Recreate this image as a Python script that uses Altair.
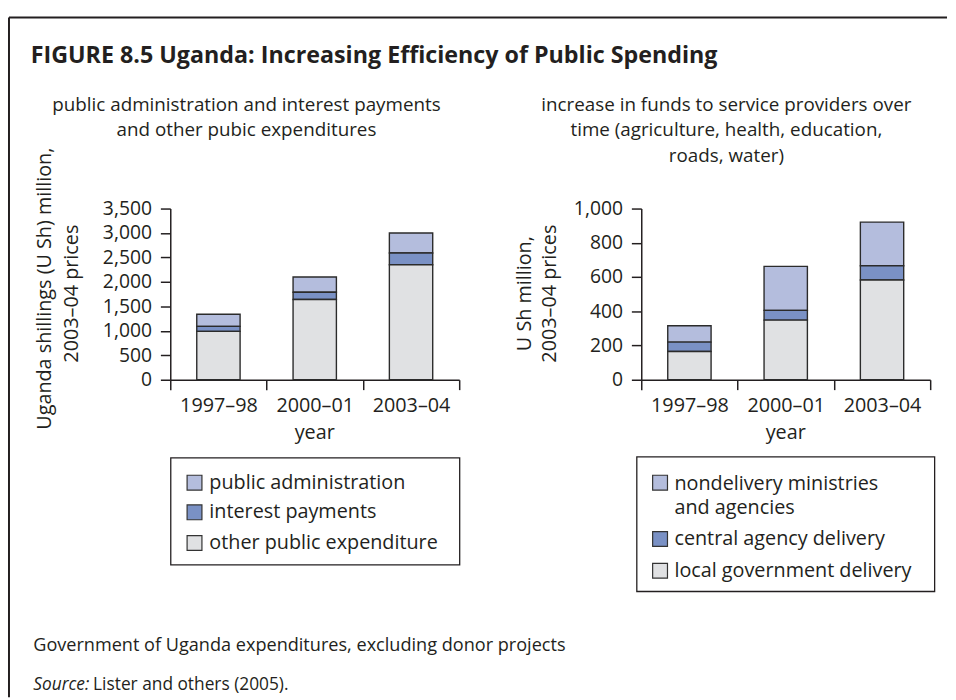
import altair as alt
import pandas as pd

# ---------------- data ----------------
years = ["1997–98", "2000–01", "2003–04"]

left_series = ["public administration", "interest payments", "other public expenditure"]
left_admin = [250, 310, 410]
left_interest = [100, 150, 240]
left_other = [990, 1640, 2350]
left_ticks = [0, 500, 1000, 1500, 2000, 2500, 3000, 3500]

right_series = ["nondelivery ministries and agencies", "central agency delivery", "local government delivery"]
right_nondelivery = [95, 257, 255]
right_central = [55, 57, 83]
right_local = [165, 348, 583]
right_ticks = [0, 200, 400, 600, 800, 1000]

colors = ["#b4bddd", "#7a91c5", "#e0e1e3"]

FONT = "Open Sans"
INK = "#231f20"
W, H = 292, 173
BODY = 20


def long_df(series, cols):
    rows = []
    for i, (s, vals) in enumerate(zip(series, cols)):
        for y, v in zip(years, vals):
            rows.append({"year": y, "series": s, "value": v, "ord": len(series) - 1 - i})
    return pd.DataFrame(rows)


left_df = long_df(left_series, [left_admin, left_interest, left_other])
right_df = long_df(right_series, [right_nondelivery, right_central, right_local])

blank = alt.Data(values=[{}])


def bars(df, series, top, ticks):
    return alt.Chart(df).mark_bar(
        width=alt.RelativeBandSize(0.45), stroke="#2b2b2b", strokeWidth=1.4
    ).encode(
        x=alt.X("year:N", sort=years,
                scale=alt.Scale(paddingInner=0, paddingOuter=0),
                axis=alt.Axis(title=None, labelAngle=0, tickBand="extent",
                              tickSize=10, tickWidth=1.5, tickColor=INK,
                              domainColor=INK, domainWidth=1.5,
                              labelFont=FONT, labelFontSize=20, labelColor=INK,
                              labelPadding=6)),
        y=alt.Y("value:Q", stack="zero",
                scale=alt.Scale(domain=[0, top], nice=False),
                axis=alt.Axis(title=None, values=ticks, format=",d", grid=False,
                              tickSize=10, tickWidth=1.5, tickColor=INK,
                              domainColor=INK, domainWidth=1.5,
                              labelFont=FONT, labelFontSize=19.5, labelColor=INK,
                              labelPadding=9)),
        color=alt.Color("series:N", scale=alt.Scale(domain=series, range=colors), legend=None),
        order=alt.Order("ord:Q"),
    )


def text(t, x, y, size=BODY, align="left", weight="normal", style="normal", angle=0,
         baseline="alphabetic", line_height=24):
    kw = dict(text=t, font=FONT, fontSize=size, align=align, fontWeight=weight,
              fontStyle=style, color=INK, baseline=baseline, lineHeight=line_height)
    if angle:
        kw["angle"] = angle
    return alt.Chart(blank).mark_text(**kw).encode(x=alt.value(x), y=alt.value(y))


def rule(x, y, x2=None, y2=None):
    enc = dict(x=alt.value(x), y=alt.value(y))
    if x2 is not None:
        enc["x2"] = alt.value(x2)
    if y2 is not None:
        enc["y2"] = alt.value(y2)
    return alt.Chart(blank).mark_rule(color=INK, strokeWidth=2).encode(**enc)


def box(x, y, x2, y2):
    return alt.Chart(blank).mark_rect(fillOpacity=0, stroke=INK, strokeWidth=1.3).encode(
        x=alt.value(x), y=alt.value(y), x2=alt.value(x2), y2=alt.value(y2))


def swatch(cx, cy, color, s=15):
    return alt.Chart(blank).mark_rect(fill=color, stroke="#333333", strokeWidth=1.2).encode(
        x=alt.value(cx - s / 2), x2=alt.value(cx + s / 2),
        y=alt.value(cy - s / 2), y2=alt.value(cy + s / 2))


# ---------------- left panel ----------------
left_layers = [
    bars(left_df, left_series, 3500, left_ticks),
    rule(-163, -193, y2=494),
    rule(-163, -193, x2=785),
    text("FIGURE 8.5  Uganda: Increasing Efficiency of Public Spending", -141, -147,
         size=23.5, weight="bold"),
    text(["public administration and interest payments", "and other pubic expenditures"],
         77, -99, align="center", size=19, line_height=26),
    text("Uganda shillings (U Sh) million,", -126.5, 81, align="center", angle=270,
         baseline="middle", size=20),
    text("2003–04 prices", -99.5, 86, align="center", angle=270, baseline="middle",
         size=20),
    text("year", 146, 233, align="center"),
    box(0.5, 252, 292.5, 360),
]
for i, (s, cy) in enumerate(zip(left_series, [277, 307, 338])):
    left_layers.append(swatch(24.5, cy, colors[i]))
    left_layers.append(text(s, 39.5, cy, baseline="middle"))
left_layers += [
    text("Government of Uganda expenditures, excluding donor projects", -138.5, 447,
         size=18.3),
    text("Source:", -138.5, 487, size=17.5, style="italic"),
    text("Lister and others (2005).", -78, 487, size=17.5),
]
left = alt.layer(*left_layers).properties(width=W, height=H)

# ---------------- right panel ----------------
right_layers = [
    bars(right_df, right_series, 1000, right_ticks),
    text(["increase in funds to service providers over",
          "time (agriculture, health, education,", "roads, water)"],
         86, -99, align="center", size=19, line_height=26),
    text("U Sh million,", -117.5, 86, align="center", angle=270, baseline="middle",
         size=20),
    text("2003–04 prices", -92.5, 86, align="center", angle=270, baseline="middle",
         size=20),
    text("year", 146, 233, align="center"),
    box(-4.5, 251, 296.5, 387),
]
legend_rows = [(["nondelivery ministries", "and agencies"], 277),
               ("central agency delivery", 334),
               ("local government delivery", 366)]
for i, (label, cy) in enumerate(legend_rows):
    right_layers.append(swatch(19, cy, colors[i]))
    if isinstance(label, list):
        right_layers.append(text(label, 33.5, cy + 7, line_height=25))
    else:
        right_layers.append(text(label, 33.5, cy, baseline="middle"))
right = alt.layer(*right_layers).properties(width=W, height=H)

chart = alt.hconcat(left, right, spacing=184, bounds="flush").properties(
    padding={"left": 0, "top": 5, "right": 0, "bottom": 0},
    background="white",
).configure_view(stroke=None)

chart.save("out.html", embed_options={"renderer": "svg", "actions": False})
